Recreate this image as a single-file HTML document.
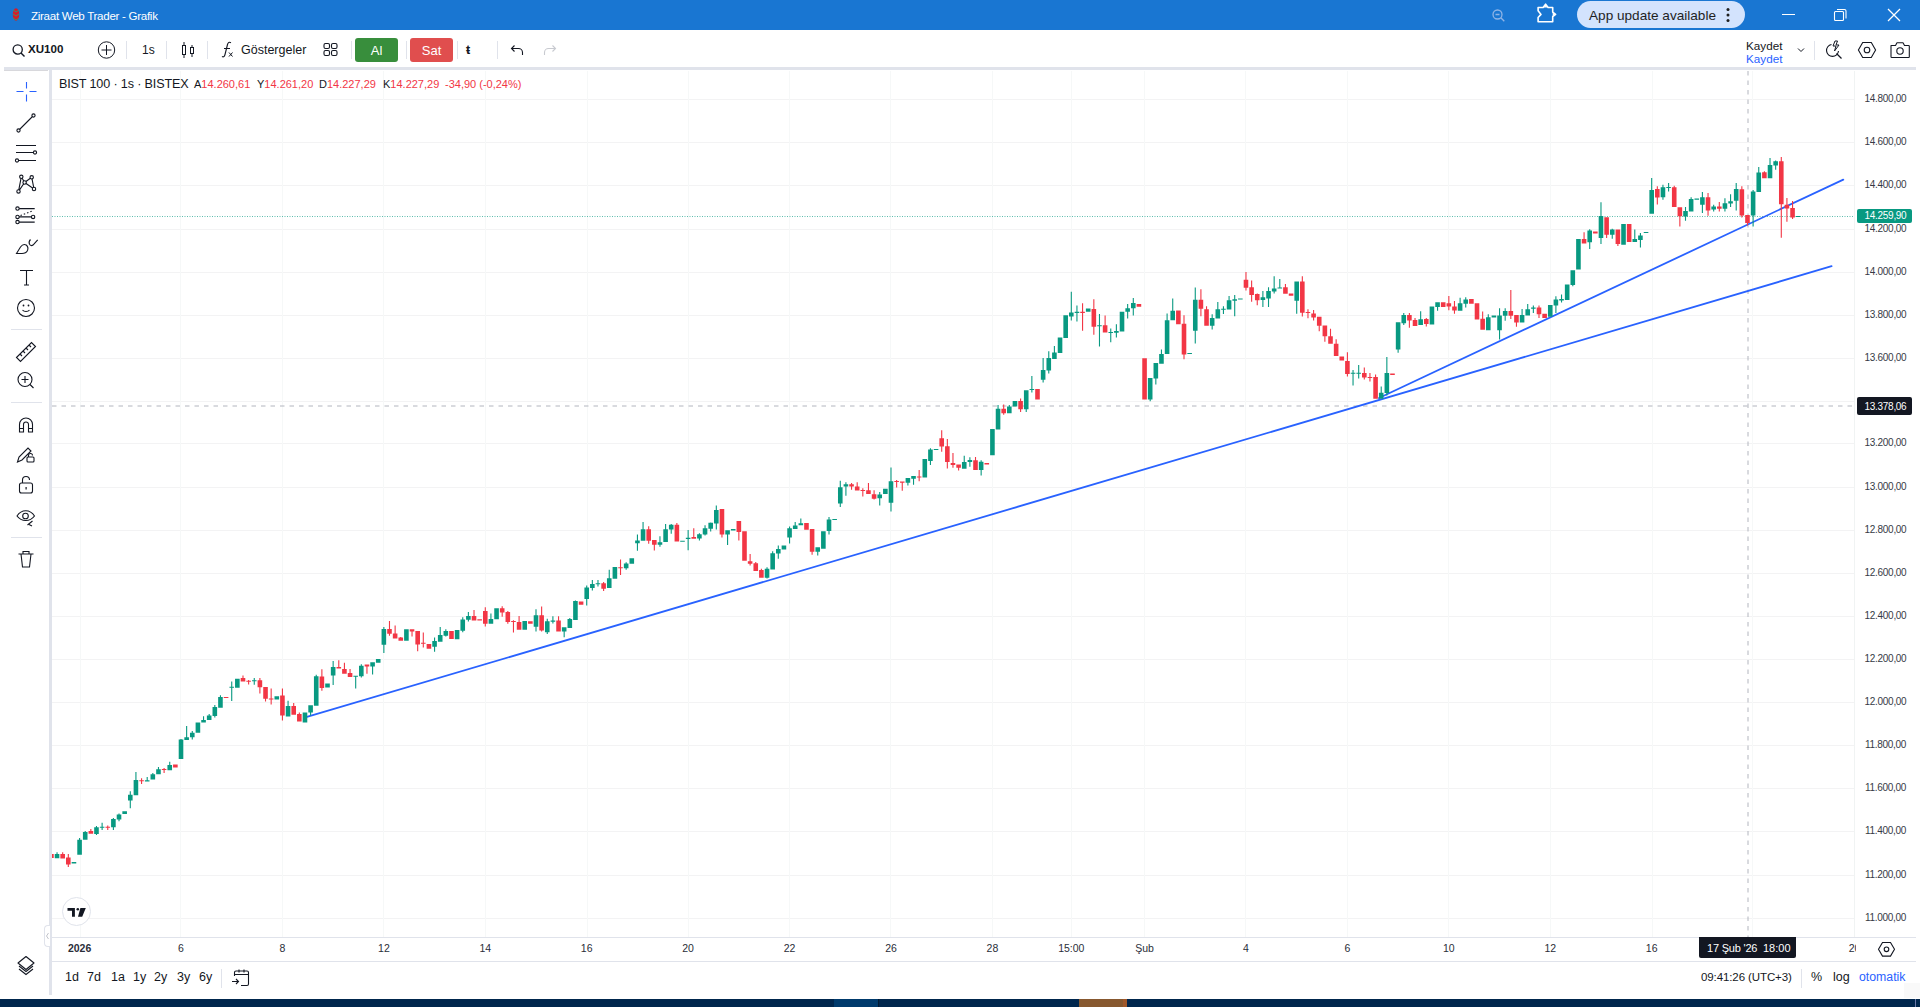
<!DOCTYPE html>
<html><head><meta charset="utf-8">
<style>
*{margin:0;padding:0;box-sizing:border-box}
html,body{width:1920px;height:1007px;overflow:hidden;background:#fff;font-family:"Liberation Sans",sans-serif;color:#131722}
.a{position:absolute;white-space:nowrap}
.sep{position:absolute;background:#e0e3eb}
.vs{position:absolute;width:1px;top:41px;height:18px;background:#e0e3eb}
svg.i{position:absolute;overflow:visible}
.pl{position:absolute;left:1858px;width:55px;text-align:center;font-size:10px;letter-spacing:-0.3px;line-height:13px;color:#363a45}
.tl{position:absolute;top:941px;width:60px;text-align:center;font-size:10.5px;line-height:14px;color:#2a2e39}
.tl.b{font-weight:bold}
.bt{position:absolute;top:970px;font-size:12.5px;line-height:15px;color:#131722}
</style></head><body>
<!-- ===== title bar ===== -->
<div class="a" style="left:0;top:0;width:1920px;height:30px;background:#1976d2"></div>
<svg class="i" style="left:0;top:0" width="30" height="30">
 <ellipse cx="16" cy="14.5" rx="3.2" ry="6.2" fill="#d81b28"/>
 <path d="M13 10l3 2 3-2M13 14l3 2 3-2M13 18l3 2 3-2" stroke="#2e9a6a" stroke-width="0.9" fill="none"/>
</svg>
<div class="a" style="left:31px;top:8.5px;font-size:11.6px;letter-spacing:-0.3px;color:#fff">Ziraat Web Trader - Grafik</div>
<svg class="i" style="left:1488px;top:5px" width="22" height="20">
 <circle cx="9.5" cy="9.5" r="4.5" stroke="#8fb4e6" stroke-width="1.3" fill="none"/>
 <path d="M7.5 9.5h4M12.8 12.8l3.5 3.5" stroke="#8fb4e6" stroke-width="1.3"/>
</svg>
<svg class="i" style="left:1534px;top:2px" width="24" height="24">
 <path d="M4.1 5.5H9.1L11.6 2.2L14.1 5.5H18.7V10.1L21.6 12.4L18.7 14.7V19.7H4.1V15.5L7 12.4L4.1 8.8Z" stroke="#fff" stroke-width="1.6" fill="none" stroke-linejoin="round"/><path d="M9.5 5.5L11.6 2.8L13.7 5.5zM18.7 10.5L21 12.4L18.7 14.3z" fill="#fff"/>
</svg>
<div class="a" style="left:1577px;top:1px;width:168px;height:27px;border-radius:14px;background:#d3e3fd"></div>
<div class="a" style="left:1589px;top:7.5px;font-size:13.6px;color:#1f1f1f">App update available</div>
<svg class="i" style="left:1724px;top:6px" width="8" height="18">
 <circle cx="4" cy="3.5" r="1.5" fill="#1f1f1f"/><circle cx="4" cy="9" r="1.5" fill="#1f1f1f"/><circle cx="4" cy="14.5" r="1.5" fill="#1f1f1f"/>
</svg>
<div class="a" style="left:1782px;top:14px;width:13px;height:1px;background:#fff"></div>
<svg class="i" style="left:1830px;top:5px" width="22" height="20">
 <rect x="4.5" y="6.5" width="9" height="9" stroke="#fff" stroke-width="1.1" fill="none" rx="1"/>
 <path d="M7 4.5h7.5a1.5 1.5 0 0 1 1.5 1.5v7.5" stroke="#fff" stroke-width="1.1" fill="none"/>
</svg>
<svg class="i" style="left:1886px;top:7px" width="16" height="16">
 <path d="M2 2l12 12M14 2L2 14" stroke="#fff" stroke-width="1.3"/>
</svg>

<!-- ===== top toolbar ===== -->
<svg class="i" style="left:10px;top:41px" width="18" height="18">
 <circle cx="7.7" cy="8.5" r="4.6" stroke="#131722" stroke-width="1.3" fill="none"/>
 <path d="M11 12l3.5 3.5" stroke="#131722" stroke-width="1.4"/>
</svg>
<div class="a" style="left:28px;top:42px;font-size:11.6px;font-weight:bold;line-height:14px">XU100</div>
<svg class="i" style="left:96px;top:40px" width="22" height="22">
 <circle cx="10.5" cy="10" r="8.2" stroke="#131722" stroke-width="1" fill="none"/>
 <path d="M10.5 5v10M5.5 10h10" stroke="#131722" stroke-width="1"/>
</svg>
<div class="vs" style="left:126px"></div>
<div class="a" style="left:142px;top:43px;font-size:12px;line-height:14px">1s</div>
<div class="vs" style="left:166px"></div>
<svg class="i" style="left:180px;top:40px" width="16" height="20">
 <path d="M4 2v16M12 5v12" stroke="#131722" stroke-width="1"/>
 <rect x="2.5" y="5.5" width="3" height="9" fill="#fff" stroke="#131722" stroke-width="1"/>
 <rect x="10.5" y="7.5" width="3" height="6" fill="#fff" stroke="#131722" stroke-width="1"/>
</svg>
<div class="vs" style="left:207px"></div>
<svg class="i" style="left:219px;top:40px" width="18" height="20">
 <path d="M3 16.5c1.5 1 2.5 0 3-2l2.5-10c.5-2 1.7-2.7 3.5-1.8M5 8.5h6" stroke="#131722" stroke-width="1.1" fill="none"/>
 <path d="M10 12.5l3.5 4M13.5 12.5l-3.5 4" stroke="#131722" stroke-width="1"/>
</svg>
<div class="a" style="left:241px;top:43px;font-size:12.5px;line-height:14px">Göstergeler</div>
<svg class="i" style="left:322px;top:42px" width="18" height="16">
 <rect x="2" y="1.5" width="5.5" height="5" rx="1.5" stroke="#131722" stroke-width="1.1" fill="none"/>
 <rect x="9.5" y="1.5" width="5.5" height="5" rx="1.5" stroke="#131722" stroke-width="1.1" fill="none"/>
 <rect x="2" y="8.5" width="5.5" height="5" rx="1.5" stroke="#131722" stroke-width="1.1" fill="none"/>
 <rect x="9.5" y="8.5" width="5.5" height="5" rx="1.5" stroke="#131722" stroke-width="1.1" fill="none"/>
</svg>
<div class="vs" style="left:351px"></div>
<div class="a" style="left:355px;top:38px;width:43px;height:24px;border-radius:3px;background:#388e3c;color:#fff;font-size:13px;text-align:center;line-height:26px">Al</div>
<div class="vs" style="left:406px"></div>
<div class="a" style="left:410px;top:38px;width:43px;height:24px;border-radius:3px;background:#e04e4e;color:#fff;font-size:13px;text-align:center;line-height:26px">Sat</div>
<div class="vs" style="left:457px"></div>
<div class="a" style="left:466px;top:43px;font-size:12.5px;font-weight:bold;line-height:14px">ŧ</div>
<div class="vs" style="left:497px"></div>
<svg class="i" style="left:508px;top:41px" width="18" height="18">
 <path d="M3.5 7.5h7a4 4 0 0 1 4 4v2.5M6.5 4.5l-3 3 3 3" stroke="#131722" stroke-width="1.1" fill="none"/>
</svg>
<svg class="i" style="left:541px;top:41px" width="18" height="18">
 <path d="M14.5 7.5h-7a4 4 0 0 0-4 4v2.5M11.5 4.5l3 3-3 3" stroke="#c8cad0" stroke-width="1.1" fill="none"/>
</svg>
<div class="a" style="left:1746px;top:39px;font-size:11.7px;line-height:13px">Kaydet</div>
<div class="a" style="left:1746px;top:52px;font-size:11.7px;line-height:13px;color:#2962ff">Kaydet</div>
<svg class="i" style="left:1796px;top:46px" width="10" height="8">
 <path d="M2 2.5l3 3 3-3" stroke="#131722" stroke-width="1" fill="none"/>
</svg>
<div class="a" style="left:1814px;top:41px;width:1px;height:19px;background:#e0e3eb"></div>
<svg class="i" style="left:1824px;top:39px" width="20" height="21">
 <path d="M7.5 5.5a6 6 0 1 0 7 6.5" stroke="#131722" stroke-width="1.1" fill="none"/>
 <path d="M11 2l-2 5h3l-1.5 5 4.5-6h-3l1.5-4z" stroke="#131722" stroke-width="1" fill="none" stroke-linejoin="round"/>
 <path d="M12.5 14.5l5 5" stroke="#131722" stroke-width="1.2"/>
</svg>
<svg class="i" style="left:1857px;top:41px" width="20" height="18">
 <path d="M5.2 1.5h8.6l4.3 7.5-4.3 7.5H5.2L.9 9z" stroke="#131722" stroke-width="1.1" fill="none" transform="translate(0.5 0)"/>
 <circle cx="10" cy="9" r="2.8" stroke="#131722" stroke-width="1.1" fill="none"/>
</svg>
<svg class="i" style="left:1889px;top:41px" width="22" height="18">
 <path d="M2 4.5h4.5l1.5-2.8h6l1.5 2.8H19.5a.8.8 0 0 1 .8.8v10.4a.8.8 0 0 1-.8.8H2.8a.8.8 0 0 1-.8-.8z" stroke="#131722" stroke-width="1.1" fill="none" stroke-linejoin="round"/>
 <circle cx="11" cy="10" r="3.2" stroke="#131722" stroke-width="1.1" fill="none"/>
</svg>
<div class="sep" style="left:4px;top:67px;width:1912px;height:3px"></div>
<div class="a" style="left:4px;top:70px;width:44px;height:1px;background:#d8d8dc"></div>
<div class="sep" style="left:49px;top:70px;width:3px;height:925px"></div>

<!-- ===== left toolbar ===== -->
<svg class="i" style="left:0;top:70px" width="49" height="500">
 <g stroke="#2962ff" stroke-width="1.1">
  <path d="M26.5 12v6.5M26.5 24.5v7M16.5 21.5h7M29.5 21.5h7"/>
 </g>
 <g stroke="#131722" stroke-width="1.1" fill="none">
  <!-- line tool -->
  <path d="M19.5 59.5l13-13"/><circle cx="18.5" cy="60.5" r="1.6" fill="#fff"/><circle cx="33.5" cy="45.5" r="1.6" fill="#fff"/>
  <!-- parallel lines -->
  <path d="M16 75.5h20M16 82.5h17M18.5 90.5h17.5"/><circle cx="35" cy="82.5" r="1.6" fill="#fff"/><circle cx="17" cy="90.5" r="1.6" fill="#fff"/>
  <!-- pattern -->
  <path d="M21.3 106.8L18.5 121.4L24.6 112.5L21.3 106.8M24.6 112.5L31.7 107.3L34 119L24.6 112.5"/>
  <circle cx="21.3" cy="106.8" r="1.7" fill="#fff"/><circle cx="31.7" cy="107.3" r="1.7" fill="#fff"/><circle cx="24.6" cy="112.5" r="1.7" fill="#fff"/><circle cx="34" cy="119" r="1.7" fill="#fff"/><circle cx="18.5" cy="121.4" r="1.7" fill="#fff"/>
  <!-- fib -->
  <path d="M18.5 138.6h16.2M18.5 146.9h16.2M18.5 152.1h16.2"/><path d="M20.5 145.5l13-5" stroke-dasharray="1.5 2"/>
  <circle cx="17.5" cy="138.6" r="1.7" fill="#fff"/><circle cx="17.5" cy="146.9" r="1.7" fill="#fff"/><circle cx="33.1" cy="146.9" r="1.7" fill="#fff"/><circle cx="17.5" cy="152.1" r="1.7" fill="#fff"/>
  <!-- brush -->
  <path d="M16.5 183.5L20.5 177Q23 173.5 26.2 175Q28.8 177.2 27.5 180.5Q26 183.5 22 183.5Z"/><path d="M30.5 169.5Q28.3 171.8 29.5 174.3Q31 176.5 33 175L37.7 169.8"/>
  <!-- text -->
  <path d="M20 200.5h13M26.5 200.5v14.5M24 215h5"/>
  <!-- emoji -->
  <circle cx="26" cy="238" r="8.5"/><path d="M22.5 240c1.5 2 5.5 2 7 0"/>
 </g>
 <g fill="#131722"><circle cx="23.5" cy="235.5" r=".9"/><circle cx="28.5" cy="235.5" r=".9"/></g>
 <rect x="11" y="259" width="31" height="1" fill="#e0e3eb"/>
 <g stroke="#131722" stroke-width="1.1" fill="none">
  <!-- ruler -->
  <path d="M16.5 287.5l15-15 4 4-15 15zM20 284l2 2M23 281l2 2M26 278l2 2M29 275l2 2"/>
  <!-- zoom -->
  <circle cx="25" cy="309.5" r="7"/><path d="M25 306v7M21.5 309.5h7M30 314.5l3.5 3.5"/>
 </g>
 <rect x="11" y="332" width="31" height="1" fill="#e0e3eb"/>
 <g stroke="#131722" stroke-width="1.1" fill="none">
  <!-- magnet -->
  <path d="M19.5 362v-7.5a6.5 6.5 0 0 1 13 0v7.5h-4v-7.5a2.5 2.5 0 0 0-5 0v7.5zM19.5 358.5h4M28.5 358.5h4"/>
  <!-- pencil lock -->
  <path d="M17.5 392l1.5-5 9-9 3 3-9 9z"/><rect x="27" y="387" width="7" height="5" rx="1"/><path d="M28.5 387v-1.5a2 2 0 0 1 4 0"/>
  <!-- lock -->
  <rect x="19.5" y="413" width="13" height="10" rx="2"/><path d="M22.5 413v-3a3.5 3.5 0 0 1 7 0"/>
  <!-- eye -->
  <path d="M17 446c4.5-7 13-7 17.5 0-4.5 6-13 6-17.5 0z"/><circle cx="25.5" cy="446" r="2.8"/><path d="M27.5 455l5-4M29 454.5l3 1.5"/>
 </g>
 <g fill="#131722"><rect x="25.5" y="417" width="1.2" height="2.5"/></g>
 <rect x="11" y="467" width="31" height="1" fill="#e0e3eb"/>
 <g stroke="#131722" stroke-width="1.1" fill="none">
  <path d="M18.5 484h15M21 484l1.5 13h7l1.5-13M23 484v-2.5h6v2.5"/>
 </g>
</svg>
<svg class="i" style="left:15px;top:955px" width="22" height="22">
 <path d="M11 1.5l8 6.5-8 6.5-8-6.5z" stroke="#131722" stroke-width="1.1" fill="none" stroke-linejoin="round"/>
 <path d="M4 11l7 5.5 7-5.5M4 14l7 5.5 7-5.5" stroke="#131722" stroke-width="1.1" fill="none"/>
</svg>

<!-- ===== chart ===== -->
<svg width="1920" height="1007" style="position:absolute;left:0;top:0"><defs><clipPath id="cp"><rect x="52" y="71" width="1803" height="866"/></clipPath></defs><g clip-path="url(#cp)"><rect x="52" y="99" width="1803" height="1" fill="#f3f3f4"/><rect x="52" y="142" width="1803" height="1" fill="#f3f3f4"/><rect x="52" y="185" width="1803" height="1" fill="#f3f3f4"/><rect x="52" y="229" width="1803" height="1" fill="#f3f3f4"/><rect x="52" y="272" width="1803" height="1" fill="#f3f3f4"/><rect x="52" y="315" width="1803" height="1" fill="#f3f3f4"/><rect x="52" y="358" width="1803" height="1" fill="#f3f3f4"/><rect x="52" y="401" width="1803" height="1" fill="#f3f3f4"/><rect x="52" y="443" width="1803" height="1" fill="#f3f3f4"/><rect x="52" y="487" width="1803" height="1" fill="#f3f3f4"/><rect x="52" y="530" width="1803" height="1" fill="#f3f3f4"/><rect x="52" y="573" width="1803" height="1" fill="#f3f3f4"/><rect x="52" y="616" width="1803" height="1" fill="#f3f3f4"/><rect x="52" y="659" width="1803" height="1" fill="#f3f3f4"/><rect x="52" y="702" width="1803" height="1" fill="#f3f3f4"/><rect x="52" y="745" width="1803" height="1" fill="#f3f3f4"/><rect x="52" y="788" width="1803" height="1" fill="#f3f3f4"/><rect x="52" y="831" width="1803" height="1" fill="#f3f3f4"/><rect x="52" y="875" width="1803" height="1" fill="#f3f3f4"/><rect x="52" y="918" width="1803" height="1" fill="#f3f3f4"/><rect x="80" y="71" width="1" height="866" fill="#f6f8f8"/><rect x="180" y="71" width="1" height="866" fill="#f6f8f8"/><rect x="282" y="71" width="1" height="866" fill="#f6f8f8"/><rect x="383" y="71" width="1" height="866" fill="#f6f8f8"/><rect x="485" y="71" width="1" height="866" fill="#f6f8f8"/><rect x="587" y="71" width="1" height="866" fill="#f6f8f8"/><rect x="688" y="71" width="1" height="866" fill="#f6f8f8"/><rect x="789" y="71" width="1" height="866" fill="#f6f8f8"/><rect x="890" y="71" width="1" height="866" fill="#f6f8f8"/><rect x="992" y="71" width="1" height="866" fill="#f6f8f8"/><rect x="1071" y="71" width="1" height="866" fill="#f6f8f8"/><rect x="1144" y="71" width="1" height="866" fill="#f6f8f8"/><rect x="1245" y="71" width="1" height="866" fill="#f6f8f8"/><rect x="1347" y="71" width="1" height="866" fill="#f6f8f8"/><rect x="1448" y="71" width="1" height="866" fill="#f6f8f8"/><rect x="1550" y="71" width="1" height="866" fill="#f6f8f8"/><rect x="1652" y="71" width="1" height="866" fill="#f6f8f8"/><rect x="1752" y="71" width="1" height="866" fill="#f6f8f8"/><line x1="52" y1="406" x2="1855" y2="406" stroke="#b2b5be" stroke-width="1" stroke-dasharray="4.5 5" /><line x1="1748" y1="71" x2="1748" y2="937" stroke="#b2b5be" stroke-width="1" stroke-dasharray="4.5 5" /><line x1="52" y1="216.5" x2="1855" y2="216.5" stroke="#089981" stroke-opacity="0.65" stroke-width="1" stroke-dasharray="1 1.5" /><line x1="306.9" y1="716.9" x2="1831.6" y2="266.2" stroke="#2962ff" stroke-width="1.8" stroke-linecap="round"/><line x1="1379" y1="398" x2="1843.3" y2="179.6" stroke="#2962ff" stroke-width="1.8" stroke-linecap="round"/><path fill="#089981" d="M54.74 854.10h4.6v4.10h-4.6zM56.49 852.30h1.1v1.80h-1.1zM71.65 862.10h4.6v1.50h-4.6zM77.28 839.80h4.6v14.90h-4.6zM79.03 838.00h1.1v1.80h-1.1zM82.91 832.00h4.6v7.80h-4.6zM84.66 831.10h1.1v0.90h-1.1zM94.18 827.30h4.6v6.80h-4.6zM95.93 826.00h1.1v1.30h-1.1zM95.93 834.10h1.1v0.90h-1.1zM99.82 826.85h4.6v1.00h-4.6zM101.57 822.80h1.1v4.05h-1.1zM101.57 827.85h1.1v2.15h-1.1zM111.09 818.90h4.6v8.40h-4.6zM112.84 818.00h1.1v0.90h-1.1zM112.84 827.30h1.1v2.70h-1.1zM116.72 814.50h4.6v5.00h-4.6zM118.47 813.60h1.1v0.90h-1.1zM118.47 819.50h1.1v1.80h-1.1zM122.36 811.30h4.6v2.70h-4.6zM127.99 794.80h4.6v5.80h-4.6zM129.74 791.20h1.1v3.60h-1.1zM129.74 800.60h1.1v7.60h-1.1zM133.63 780.00h4.6v15.20h-4.6zM135.38 772.00h1.1v8.00h-1.1zM144.90 780.30h4.6v1.10h-4.6zM146.65 777.00h1.1v3.30h-1.1zM150.53 774.20h4.6v5.40h-4.6zM152.28 772.90h1.1v1.30h-1.1zM156.17 769.30h4.6v4.90h-4.6zM157.92 767.00h1.1v2.30h-1.1zM167.44 764.90h4.6v5.30h-4.6zM169.19 761.70h1.1v3.20h-1.1zM178.71 739.40h4.6v19.60h-4.6zM180.46 739.00h1.1v0.40h-1.1zM184.34 737.30h4.6v2.70h-4.6zM186.09 726.10h1.1v11.20h-1.1zM189.98 732.80h4.6v4.50h-4.6zM191.73 731.00h1.1v1.80h-1.1zM191.73 737.30h1.1v2.20h-1.1zM195.61 722.60h4.6v10.20h-4.6zM201.25 719.90h4.6v2.70h-4.6zM203.00 716.30h1.1v3.60h-1.1zM206.88 715.40h4.6v4.50h-4.6zM208.63 714.00h1.1v1.40h-1.1zM212.52 706.90h4.6v9.00h-4.6zM214.27 705.10h1.1v1.80h-1.1zM214.27 715.90h1.1v1.70h-1.1zM218.15 697.10h4.6v10.70h-4.6zM219.90 695.30h1.1v1.80h-1.1zM229.42 686.75h4.6v1.00h-4.6zM231.17 681.40h1.1v5.35h-1.1zM231.17 687.75h1.1v13.35h-1.1zM235.05 678.80h4.6v8.90h-4.6zM251.96 680.30h4.6v1.00h-4.6zM253.71 678.10h1.1v2.20h-1.1zM253.71 681.30h1.1v3.40h-1.1zM274.50 696.30h4.6v3.20h-4.6zM285.77 706.10h4.6v10.40h-4.6zM287.52 700.70h1.1v5.40h-1.1zM302.67 712.40h4.6v10.10h-4.6zM308.31 705.20h4.6v7.20h-4.6zM310.06 712.40h1.1v3.20h-1.1zM313.94 676.30h4.6v29.50h-4.6zM315.69 674.80h1.1v1.50h-1.1zM325.21 683.40h4.6v4.10h-4.6zM330.85 667.00h4.6v8.40h-4.6zM332.60 661.10h1.1v5.90h-1.1zM332.60 675.40h1.1v9.50h-1.1zM353.39 675.80h4.6v1.00h-4.6zM355.14 676.80h1.1v11.70h-1.1zM359.02 665.80h4.6v10.40h-4.6zM360.77 664.20h1.1v1.60h-1.1zM360.77 676.20h1.1v1.20h-1.1zM370.29 662.30h4.6v4.30h-4.6zM372.04 666.60h1.1v8.00h-1.1zM375.92 659.10h4.6v3.60h-4.6zM381.56 628.90h4.6v15.90h-4.6zM383.31 626.90h1.1v2.00h-1.1zM383.31 644.80h1.1v8.30h-1.1zM404.10 629.20h4.6v11.60h-4.6zM432.27 641.10h4.6v5.70h-4.6zM434.02 637.50h1.1v3.60h-1.1zM434.02 646.80h1.1v5.00h-1.1zM437.91 635.10h4.6v6.60h-4.6zM439.66 627.10h1.1v8.00h-1.1zM443.54 631.00h4.6v4.70h-4.6zM445.29 629.20h1.1v1.80h-1.1zM445.29 635.70h1.1v0.90h-1.1zM454.81 630.10h4.6v9.20h-4.6zM460.45 619.50h4.6v11.30h-4.6zM462.20 617.30h1.1v2.20h-1.1zM462.20 630.80h1.1v1.50h-1.1zM466.08 616.10h4.6v3.70h-4.6zM467.83 612.00h1.1v4.10h-1.1zM467.83 619.80h1.1v1.80h-1.1zM488.62 619.10h4.6v4.70h-4.6zM490.37 613.40h1.1v5.70h-1.1zM494.26 608.20h4.6v11.10h-4.6zM522.43 621.10h4.6v8.70h-4.6zM533.70 615.20h4.6v11.60h-4.6zM535.45 609.30h1.1v5.90h-1.1zM535.45 626.80h1.1v4.70h-1.1zM544.97 621.20h4.6v11.00h-4.6zM546.72 618.70h1.1v2.50h-1.1zM546.72 632.20h1.1v1.70h-1.1zM550.60 620.40h4.6v1.30h-4.6zM552.35 616.20h1.1v4.20h-1.1zM552.35 621.70h1.1v1.70h-1.1zM561.87 627.20h4.6v4.20h-4.6zM563.62 631.40h1.1v5.90h-1.1zM567.51 619.10h4.6v8.90h-4.6zM569.26 617.90h1.1v1.20h-1.1zM573.14 601.00h4.6v19.00h-4.6zM574.89 600.60h1.1v0.40h-1.1zM584.41 587.50h4.6v11.40h-4.6zM586.16 585.40h1.1v2.10h-1.1zM586.16 598.90h1.1v6.70h-1.1zM590.05 584.10h4.6v3.80h-4.6zM591.80 579.90h1.1v4.20h-1.1zM591.80 587.90h1.1v2.50h-1.1zM595.68 583.20h4.6v1.00h-4.6zM597.43 579.90h1.1v3.30h-1.1zM597.43 584.20h1.1v2.40h-1.1zM606.95 578.20h4.6v9.70h-4.6zM608.70 569.80h1.1v8.40h-1.1zM612.59 567.00h4.6v11.70h-4.6zM623.86 563.50h4.6v4.80h-4.6zM625.61 562.30h1.1v1.20h-1.1zM625.61 568.30h1.1v1.50h-1.1zM629.49 558.20h4.6v5.60h-4.6zM635.13 540.40h4.6v2.90h-4.6zM636.88 534.40h1.1v6.00h-1.1zM636.88 543.30h1.1v7.50h-1.1zM640.76 529.20h4.6v11.50h-4.6zM642.51 522.10h1.1v7.10h-1.1zM657.66 542.20h4.6v2.60h-4.6zM659.41 536.30h1.1v5.90h-1.1zM659.41 544.80h1.1v1.90h-1.1zM663.30 529.20h4.6v12.70h-4.6zM665.05 524.00h1.1v5.20h-1.1zM668.93 524.70h4.6v4.90h-4.6zM670.68 524.00h1.1v0.70h-1.1zM670.68 529.60h1.1v4.10h-1.1zM680.20 540.85h4.6v1.00h-4.6zM685.84 537.80h4.6v1.20h-4.6zM687.59 530.00h1.1v7.80h-1.1zM687.59 539.00h1.1v11.20h-1.1zM697.11 534.20h4.6v4.20h-4.6zM698.86 533.30h1.1v0.90h-1.1zM698.86 538.40h1.1v2.10h-1.1zM702.74 528.30h4.6v6.30h-4.6zM704.49 525.30h1.1v3.00h-1.1zM704.49 534.60h1.1v0.80h-1.1zM708.38 522.80h4.6v5.90h-4.6zM710.13 522.40h1.1v0.40h-1.1zM710.13 528.70h1.1v2.90h-1.1zM714.01 510.10h4.6v13.50h-4.6zM715.76 505.50h1.1v4.60h-1.1zM715.76 523.60h1.1v5.90h-1.1zM725.28 530.20h4.6v4.40h-4.6zM727.03 534.60h1.1v10.50h-1.1zM730.92 529.10h4.6v1.40h-4.6zM764.73 568.80h4.6v9.00h-4.6zM766.48 567.30h1.1v1.50h-1.1zM766.48 577.80h1.1v0.70h-1.1zM770.36 553.20h4.6v16.40h-4.6zM772.11 551.30h1.1v1.90h-1.1zM776.00 549.10h4.6v4.50h-4.6zM777.75 545.40h1.1v3.70h-1.1zM777.75 553.60h1.1v5.20h-1.1zM781.63 545.40h4.6v4.10h-4.6zM787.26 528.20h4.6v9.40h-4.6zM789.01 526.40h1.1v1.80h-1.1zM789.01 537.60h1.1v5.90h-1.1zM792.90 525.60h4.6v3.40h-4.6zM794.65 521.90h1.1v3.70h-1.1zM798.53 523.30h4.6v2.00h-4.6zM800.28 518.60h1.1v4.70h-1.1zM815.44 547.20h4.6v4.50h-4.6zM817.19 551.70h1.1v3.70h-1.1zM821.07 531.20h4.6v17.50h-4.6zM826.71 519.60h4.6v11.50h-4.6zM828.46 517.00h1.1v2.60h-1.1zM828.46 531.10h1.1v3.50h-1.1zM832.34 519.05h4.6v1.00h-4.6zM837.98 487.20h4.6v16.40h-4.6zM839.73 480.80h1.1v6.40h-1.1zM839.73 503.60h1.1v3.30h-1.1zM843.61 484.20h4.6v2.20h-4.6zM845.36 482.30h1.1v1.90h-1.1zM845.36 486.40h1.1v9.30h-1.1zM877.42 494.60h4.6v3.70h-4.6zM879.17 492.00h1.1v2.60h-1.1zM879.17 498.30h1.1v7.10h-1.1zM883.06 488.70h4.6v5.20h-4.6zM888.69 481.20h4.6v21.60h-4.6zM890.44 467.40h1.1v13.80h-1.1zM890.44 502.80h1.1v8.60h-1.1zM905.60 478.00h4.6v4.70h-4.6zM907.35 482.70h1.1v2.80h-1.1zM911.23 476.00h4.6v2.80h-4.6zM912.98 478.80h1.1v5.90h-1.1zM922.50 458.90h4.6v18.70h-4.6zM928.13 449.40h4.6v11.50h-4.6zM929.88 448.20h1.1v1.20h-1.1zM929.88 460.90h1.1v4.00h-1.1zM933.77 448.90h4.6v1.00h-4.6zM961.94 461.90h4.6v6.80h-4.6zM963.69 455.70h1.1v6.20h-1.1zM967.58 460.10h4.6v1.80h-4.6zM969.33 457.30h1.1v2.80h-1.1zM969.33 461.90h1.1v4.90h-1.1zM978.85 461.80h4.6v8.20h-4.6zM980.60 460.20h1.1v1.60h-1.1zM980.60 470.00h1.1v5.50h-1.1zM990.12 429.00h4.6v26.20h-4.6zM995.75 408.80h4.6v20.80h-4.6zM997.50 405.00h1.1v3.80h-1.1zM1007.02 406.60h4.6v6.60h-4.6zM1008.77 405.00h1.1v1.60h-1.1zM1012.66 401.10h4.6v5.50h-4.6zM1023.93 390.20h4.6v19.10h-4.6zM1025.68 409.30h1.1v2.80h-1.1zM1029.56 389.00h4.6v1.00h-4.6zM1031.31 376.10h1.1v12.90h-1.1zM1031.31 390.00h1.1v2.40h-1.1zM1040.83 370.00h4.6v9.70h-4.6zM1042.58 358.00h1.1v12.00h-1.1zM1042.58 379.70h1.1v2.90h-1.1zM1046.47 358.10h4.6v12.50h-4.6zM1048.22 351.20h1.1v6.90h-1.1zM1048.22 370.60h1.1v2.90h-1.1zM1052.10 352.40h4.6v6.60h-4.6zM1053.85 346.10h1.1v6.30h-1.1zM1057.74 337.50h4.6v15.40h-4.6zM1063.37 315.30h4.6v22.80h-4.6zM1069.00 312.40h4.6v4.00h-4.6zM1070.75 291.80h1.1v20.60h-1.1zM1070.75 316.40h1.1v4.00h-1.1zM1074.64 311.80h4.6v1.20h-4.6zM1076.39 305.50h1.1v6.30h-1.1zM1076.39 313.00h1.1v8.50h-1.1zM1085.91 308.40h4.6v3.40h-4.6zM1097.18 325.20h4.6v1.10h-4.6zM1098.93 314.10h1.1v11.10h-1.1zM1098.93 326.30h1.1v20.30h-1.1zM1108.45 332.00h4.6v1.00h-4.6zM1110.20 328.50h1.1v3.50h-1.1zM1110.20 333.00h1.1v9.20h-1.1zM1114.08 330.90h4.6v1.80h-4.6zM1115.83 324.30h1.1v6.60h-1.1zM1115.83 332.70h1.1v4.70h-1.1zM1119.72 311.80h4.6v19.70h-4.6zM1125.35 308.20h4.6v3.60h-4.6zM1127.10 304.10h1.1v4.10h-1.1zM1127.10 311.80h1.1v6.60h-1.1zM1130.99 302.90h4.6v5.30h-4.6zM1132.74 298.10h1.1v4.80h-1.1zM1132.74 308.20h1.1v7.20h-1.1zM1147.89 378.00h4.6v21.40h-4.6zM1149.64 399.40h1.1v1.80h-1.1zM1153.53 363.10h4.6v15.50h-4.6zM1155.28 378.60h1.1v5.90h-1.1zM1159.16 354.10h4.6v9.60h-4.6zM1160.91 349.40h1.1v4.70h-1.1zM1164.80 320.20h4.6v33.90h-4.6zM1166.55 313.60h1.1v6.60h-1.1zM1170.43 310.80h4.6v9.50h-4.6zM1172.18 298.50h1.1v12.30h-1.1zM1187.34 353.00h4.6v1.00h-4.6zM1192.97 299.70h4.6v31.10h-4.6zM1194.72 287.50h1.1v12.20h-1.1zM1194.72 330.80h1.1v12.80h-1.1zM1209.87 318.10h4.6v7.60h-4.6zM1211.62 314.30h1.1v3.80h-1.1zM1211.62 325.70h1.1v3.70h-1.1zM1215.51 309.20h4.6v9.40h-4.6zM1217.26 302.10h1.1v7.10h-1.1zM1221.14 308.70h4.6v1.10h-4.6zM1222.89 306.30h1.1v2.40h-1.1zM1222.89 309.80h1.1v4.10h-1.1zM1226.78 300.20h4.6v9.40h-4.6zM1228.53 295.90h1.1v4.30h-1.1zM1232.41 299.20h4.6v1.50h-4.6zM1234.16 295.00h1.1v4.20h-1.1zM1234.16 300.70h1.1v15.50h-1.1zM1238.05 298.50h4.6v1.10h-4.6zM1260.59 297.30h4.6v2.60h-4.6zM1262.34 291.10h1.1v6.20h-1.1zM1262.34 299.90h1.1v7.10h-1.1zM1266.22 291.10h4.6v7.50h-4.6zM1267.97 287.30h1.1v3.80h-1.1zM1267.97 298.60h1.1v8.40h-1.1zM1271.86 288.60h4.6v2.90h-4.6zM1273.61 276.30h1.1v12.30h-1.1zM1273.61 291.50h1.1v1.90h-1.1zM1277.49 287.60h4.6v1.00h-4.6zM1279.24 278.90h1.1v8.70h-1.1zM1294.40 281.50h4.6v19.30h-4.6zM1296.15 300.80h1.1v12.90h-1.1zM1350.74 372.80h4.6v1.00h-4.6zM1352.49 370.00h1.1v2.80h-1.1zM1352.49 373.80h1.1v11.60h-1.1zM1356.38 372.80h4.6v1.00h-4.6zM1358.13 365.10h1.1v7.70h-1.1zM1358.13 373.80h1.1v4.70h-1.1zM1378.92 392.80h4.6v6.00h-4.6zM1380.67 386.50h1.1v6.30h-1.1zM1384.55 373.00h4.6v20.10h-4.6zM1386.30 357.10h1.1v15.90h-1.1zM1386.30 393.10h1.1v2.30h-1.1zM1395.82 322.20h4.6v27.40h-4.6zM1397.57 349.60h1.1v3.20h-1.1zM1401.46 315.10h4.6v8.20h-4.6zM1403.21 313.00h1.1v2.10h-1.1zM1403.21 323.30h1.1v1.70h-1.1zM1418.36 319.30h4.6v5.70h-4.6zM1420.11 311.30h1.1v8.00h-1.1zM1429.63 306.40h4.6v18.00h-4.6zM1435.27 302.20h4.6v4.70h-4.6zM1437.02 306.90h1.1v3.90h-1.1zM1457.81 303.20h4.6v7.50h-4.6zM1459.56 297.70h1.1v5.50h-1.1zM1463.44 299.60h4.6v4.20h-4.6zM1465.19 297.20h1.1v2.40h-1.1zM1465.19 303.80h1.1v3.80h-1.1zM1485.98 317.20h4.6v13.10h-4.6zM1487.73 314.20h1.1v3.00h-1.1zM1491.61 315.40h4.6v2.10h-4.6zM1497.25 315.40h4.6v14.90h-4.6zM1499.00 308.20h1.1v7.20h-1.1zM1499.00 330.30h1.1v9.20h-1.1zM1502.88 310.90h4.6v4.80h-4.6zM1504.63 308.20h1.1v2.70h-1.1zM1504.63 315.70h1.1v5.00h-1.1zM1519.79 315.10h4.6v7.40h-4.6zM1521.54 309.10h1.1v6.00h-1.1zM1525.42 309.20h4.6v6.40h-4.6zM1527.17 304.10h1.1v5.10h-1.1zM1531.06 307.50h4.6v1.20h-4.6zM1532.81 305.60h1.1v1.90h-1.1zM1532.81 308.70h1.1v4.30h-1.1zM1547.96 305.00h4.6v11.80h-4.6zM1553.60 299.40h4.6v6.20h-4.6zM1555.35 296.30h1.1v3.10h-1.1zM1555.35 305.60h1.1v7.40h-1.1zM1559.23 299.10h4.6v1.30h-4.6zM1560.98 294.40h1.1v4.70h-1.1zM1560.98 300.40h1.1v2.10h-1.1zM1564.87 284.50h4.6v15.50h-4.6zM1570.50 270.20h4.6v14.90h-4.6zM1572.25 285.10h1.1v1.20h-1.1zM1576.14 239.10h4.6v30.50h-4.6zM1587.41 230.40h4.6v11.80h-4.6zM1589.16 229.20h1.1v1.20h-1.1zM1589.16 242.20h1.1v6.90h-1.1zM1598.68 216.10h4.6v21.80h-4.6zM1600.43 202.20h1.1v13.90h-1.1zM1600.43 237.90h1.1v6.00h-1.1zM1609.95 229.60h4.6v5.10h-4.6zM1611.70 228.80h1.1v0.80h-1.1zM1611.70 234.70h1.1v4.00h-1.1zM1621.22 224.00h4.6v20.70h-4.6zM1632.48 239.10h4.6v2.80h-4.6zM1634.23 229.60h1.1v9.50h-1.1zM1638.12 235.50h4.6v4.40h-4.6zM1639.87 233.10h1.1v2.40h-1.1zM1639.87 239.90h1.1v7.50h-1.1zM1643.75 232.00h4.6v1.10h-4.6zM1649.39 189.90h4.6v23.80h-4.6zM1651.14 177.90h1.1v12.00h-1.1zM1660.66 187.20h4.6v10.10h-4.6zM1662.41 184.80h1.1v2.40h-1.1zM1662.41 197.30h1.1v2.50h-1.1zM1666.29 186.95h4.6v1.00h-4.6zM1668.04 183.10h1.1v3.85h-1.1zM1668.04 187.95h1.1v3.55h-1.1zM1683.20 211.00h4.6v5.60h-4.6zM1684.95 206.90h1.1v4.10h-1.1zM1684.95 216.60h1.1v4.10h-1.1zM1688.83 199.10h4.6v12.30h-4.6zM1690.58 197.20h1.1v1.90h-1.1zM1694.47 198.60h4.6v1.20h-4.6zM1700.10 197.20h4.6v7.50h-4.6zM1701.85 192.00h1.1v5.20h-1.1zM1701.85 204.70h1.1v8.20h-1.1zM1711.37 206.50h4.6v3.00h-4.6zM1713.12 204.70h1.1v1.80h-1.1zM1713.12 209.50h1.1v1.90h-1.1zM1722.64 203.20h4.6v5.60h-4.6zM1724.39 198.30h1.1v4.90h-1.1zM1724.39 208.80h1.1v2.60h-1.1zM1728.28 201.30h4.6v2.30h-4.6zM1730.03 194.30h1.1v7.00h-1.1zM1730.03 203.60h1.1v3.30h-1.1zM1733.91 189.10h4.6v11.70h-4.6zM1735.66 183.10h1.1v6.00h-1.1zM1735.66 200.80h1.1v9.70h-1.1zM1750.82 191.50h4.6v24.10h-4.6zM1752.57 190.10h1.1v1.40h-1.1zM1752.57 215.60h1.1v10.80h-1.1zM1756.45 172.60h4.6v19.40h-4.6zM1758.20 167.00h1.1v5.60h-1.1zM1767.72 165.10h4.6v13.20h-4.6zM1769.47 158.00h1.1v7.10h-1.1zM1773.35 161.30h4.6v4.30h-4.6zM1775.10 160.40h1.1v0.90h-1.1zM1775.10 165.60h1.1v4.20h-1.1zM1795.89 215.90h4.6v1.00h-4.6z"/><path fill="#f23645" d="M49.11 854.00h4.6v4.00h-4.6zM60.38 854.10h4.6v4.40h-4.6zM62.13 852.30h1.1v1.80h-1.1zM66.01 857.60h4.6v6.90h-4.6zM67.76 854.00h1.1v3.60h-1.1zM67.76 864.50h1.1v2.50h-1.1zM88.55 831.10h4.6v2.70h-4.6zM90.30 829.00h1.1v2.10h-1.1zM105.45 826.65h4.6v1.00h-4.6zM107.20 825.50h1.1v1.15h-1.1zM107.20 827.65h1.1v2.35h-1.1zM139.26 780.25h4.6v1.00h-4.6zM141.01 778.30h1.1v1.95h-1.1zM141.01 781.25h1.1v2.75h-1.1zM161.80 768.90h4.6v1.00h-4.6zM163.55 768.00h1.1v0.90h-1.1zM163.55 769.90h1.1v3.00h-1.1zM173.07 764.40h4.6v3.10h-4.6zM223.78 696.90h4.6v1.00h-4.6zM240.69 677.90h4.6v3.50h-4.6zM242.44 675.60h1.1v2.30h-1.1zM246.32 680.85h4.6v1.00h-4.6zM248.07 680.00h1.1v0.85h-1.1zM248.07 681.85h1.1v2.75h-1.1zM257.59 680.20h4.6v7.10h-4.6zM259.34 678.10h1.1v2.10h-1.1zM259.34 687.30h1.1v6.30h-1.1zM263.23 687.00h4.6v11.70h-4.6zM264.98 698.70h1.1v2.90h-1.1zM268.86 698.40h4.6v1.00h-4.6zM270.61 688.50h1.1v9.90h-1.1zM270.61 699.40h1.1v5.20h-1.1zM280.13 695.40h4.6v20.20h-4.6zM281.88 688.50h1.1v6.90h-1.1zM281.88 715.60h1.1v4.80h-1.1zM291.40 706.10h4.6v8.60h-4.6zM293.15 703.10h1.1v3.00h-1.1zM297.04 714.10h4.6v7.50h-4.6zM298.79 712.60h1.1v1.50h-1.1zM319.58 676.50h4.6v11.50h-4.6zM321.33 669.30h1.1v7.20h-1.1zM321.33 688.00h1.1v2.70h-1.1zM336.48 667.00h4.6v1.40h-4.6zM338.23 660.30h1.1v6.70h-1.1zM342.12 669.00h4.6v4.80h-4.6zM343.87 662.70h1.1v6.30h-1.1zM347.75 673.00h4.6v4.00h-4.6zM349.50 669.00h1.1v4.00h-1.1zM364.65 664.60h4.6v2.00h-4.6zM366.40 666.60h1.1v7.20h-1.1zM387.19 628.90h4.6v4.80h-4.6zM388.94 621.00h1.1v7.90h-1.1zM388.94 633.70h1.1v2.00h-1.1zM392.83 633.40h4.6v5.00h-4.6zM394.58 625.60h1.1v7.80h-1.1zM398.46 637.50h4.6v3.30h-4.6zM400.21 636.90h1.1v0.60h-1.1zM409.73 629.20h4.6v2.40h-4.6zM411.48 631.60h1.1v5.00h-1.1zM415.37 631.00h4.6v13.40h-4.6zM417.12 644.40h1.1v6.80h-1.1zM421.00 642.85h4.6v1.00h-4.6zM422.75 632.50h1.1v10.35h-1.1zM422.75 643.85h1.1v3.75h-1.1zM426.64 644.10h4.6v4.70h-4.6zM449.18 631.00h4.6v8.00h-4.6zM471.72 616.10h4.6v4.50h-4.6zM473.47 610.10h1.1v6.00h-1.1zM477.35 619.30h4.6v1.30h-4.6zM482.99 611.10h4.6v12.70h-4.6zM484.74 607.20h1.1v3.90h-1.1zM484.74 623.80h1.1v2.70h-1.1zM499.89 608.20h4.6v4.20h-4.6zM501.64 606.20h1.1v2.00h-1.1zM501.64 612.40h1.1v4.40h-1.1zM505.52 611.90h4.6v10.20h-4.6zM507.27 611.10h1.1v0.80h-1.1zM507.27 622.10h1.1v1.70h-1.1zM511.16 620.95h4.6v1.00h-4.6zM512.91 620.30h1.1v0.65h-1.1zM512.91 621.95h1.1v10.55h-1.1zM516.79 622.10h4.6v7.70h-4.6zM518.54 616.10h1.1v6.00h-1.1zM528.06 621.30h4.6v2.50h-4.6zM539.33 615.30h4.6v15.20h-4.6zM541.08 606.50h1.1v8.80h-1.1zM541.08 630.50h1.1v0.90h-1.1zM556.24 620.40h4.6v11.00h-4.6zM557.99 616.20h1.1v4.20h-1.1zM578.78 601.40h4.6v3.40h-4.6zM601.32 583.30h4.6v5.50h-4.6zM603.07 582.00h1.1v1.30h-1.1zM603.07 588.80h1.1v2.10h-1.1zM618.22 567.20h4.6v1.10h-4.6zM619.97 559.40h1.1v7.80h-1.1zM619.97 568.30h1.1v6.70h-1.1zM646.39 529.20h4.6v11.50h-4.6zM648.14 526.20h1.1v3.00h-1.1zM648.14 540.70h1.1v3.00h-1.1zM652.03 540.00h4.6v4.80h-4.6zM653.78 544.80h1.1v5.60h-1.1zM674.57 524.70h4.6v16.80h-4.6zM676.32 522.90h1.1v1.80h-1.1zM691.47 537.10h4.6v1.70h-4.6zM693.22 528.30h1.1v8.80h-1.1zM719.65 508.90h4.6v25.70h-4.6zM721.40 534.60h1.1v3.00h-1.1zM736.55 521.10h4.6v10.80h-4.6zM738.30 531.90h1.1v8.60h-1.1zM742.19 531.20h4.6v29.60h-4.6zM747.82 561.20h4.6v2.50h-4.6zM749.57 554.00h1.1v7.20h-1.1zM749.57 563.70h1.1v1.70h-1.1zM753.46 563.20h4.6v7.80h-4.6zM755.21 562.10h1.1v1.10h-1.1zM759.09 570.00h4.6v7.70h-4.6zM760.84 568.80h1.1v1.20h-1.1zM804.17 523.00h4.6v6.70h-4.6zM809.80 529.00h4.6v22.70h-4.6zM811.55 551.70h1.1v3.00h-1.1zM849.25 484.20h4.6v2.20h-4.6zM851.00 483.10h1.1v1.10h-1.1zM851.00 486.40h1.1v3.40h-1.1zM854.88 486.40h4.6v4.10h-4.6zM856.63 482.30h1.1v4.10h-1.1zM860.52 489.90h4.6v1.00h-4.6zM862.27 488.30h1.1v1.60h-1.1zM862.27 490.90h1.1v5.60h-1.1zM866.15 490.20h4.6v3.70h-4.6zM867.90 483.10h1.1v7.10h-1.1zM871.79 494.30h4.6v4.40h-4.6zM873.54 490.20h1.1v4.10h-1.1zM873.54 498.70h1.1v0.80h-1.1zM894.33 481.10h4.6v1.00h-4.6zM896.08 480.10h1.1v1.00h-1.1zM896.08 482.10h1.1v5.40h-1.1zM899.96 481.60h4.6v1.10h-4.6zM901.71 482.70h1.1v8.00h-1.1zM916.87 476.40h4.6v1.20h-4.6zM918.62 470.00h1.1v6.40h-1.1zM918.62 477.60h1.1v3.60h-1.1zM939.40 438.30h4.6v8.30h-4.6zM941.15 430.30h1.1v8.00h-1.1zM941.15 446.60h1.1v5.20h-1.1zM945.04 446.20h4.6v15.90h-4.6zM946.79 439.10h1.1v7.10h-1.1zM946.79 462.10h1.1v6.40h-1.1zM950.67 462.90h4.6v2.00h-4.6zM952.42 453.00h1.1v9.90h-1.1zM952.42 464.90h1.1v2.80h-1.1zM956.31 464.50h4.6v3.20h-4.6zM958.06 467.70h1.1v2.70h-1.1zM973.21 460.20h4.6v9.80h-4.6zM974.96 456.90h1.1v3.30h-1.1zM984.48 462.90h4.6v1.60h-4.6zM1001.39 408.80h4.6v4.40h-4.6zM1003.14 404.40h1.1v4.40h-1.1zM1003.14 413.20h1.1v1.60h-1.1zM1018.29 401.10h4.6v8.20h-4.6zM1020.04 398.40h1.1v2.70h-1.1zM1020.04 409.30h1.1v2.80h-1.1zM1035.20 389.10h4.6v10.40h-4.6zM1080.27 311.80h4.6v1.20h-4.6zM1082.02 303.30h1.1v8.50h-1.1zM1082.02 313.00h1.1v17.70h-1.1zM1091.54 309.00h4.6v17.70h-4.6zM1093.29 299.30h1.1v9.70h-1.1zM1093.29 326.70h1.1v8.00h-1.1zM1102.81 325.30h4.6v7.20h-4.6zM1104.56 315.40h1.1v9.90h-1.1zM1136.62 304.10h4.6v2.60h-4.6zM1142.26 358.30h4.6v41.10h-4.6zM1176.07 310.60h4.6v13.60h-4.6zM1181.70 323.80h4.6v30.60h-4.6zM1183.45 315.30h1.1v8.50h-1.1zM1183.45 354.40h1.1v4.80h-1.1zM1198.61 299.70h4.6v9.00h-4.6zM1200.36 289.30h1.1v10.40h-1.1zM1200.36 308.70h1.1v7.50h-1.1zM1204.24 309.20h4.6v16.50h-4.6zM1205.99 306.30h1.1v2.90h-1.1zM1243.68 279.80h4.6v7.90h-4.6zM1245.43 272.00h1.1v7.80h-1.1zM1245.43 287.70h1.1v2.70h-1.1zM1249.32 287.30h4.6v7.70h-4.6zM1251.07 280.50h1.1v6.80h-1.1zM1251.07 295.00h1.1v6.80h-1.1zM1254.95 294.00h4.6v6.20h-4.6zM1256.70 293.40h1.1v0.60h-1.1zM1256.70 300.20h1.1v5.10h-1.1zM1283.13 287.30h4.6v6.40h-4.6zM1284.88 284.00h1.1v3.30h-1.1zM1288.76 293.40h4.6v2.30h-4.6zM1300.03 281.50h4.6v31.30h-4.6zM1301.78 276.30h1.1v5.20h-1.1zM1301.78 312.80h1.1v3.80h-1.1zM1305.67 312.10h4.6v1.00h-4.6zM1307.42 309.20h1.1v2.90h-1.1zM1307.42 313.10h1.1v5.20h-1.1zM1311.30 313.40h4.6v4.10h-4.6zM1313.05 310.10h1.1v3.30h-1.1zM1313.05 317.50h1.1v3.10h-1.1zM1316.94 316.70h4.6v9.10h-4.6zM1318.69 325.80h1.1v5.50h-1.1zM1322.57 325.40h4.6v10.90h-4.6zM1324.32 336.30h1.1v5.40h-1.1zM1328.21 336.30h4.6v7.40h-4.6zM1329.96 328.80h1.1v7.50h-1.1zM1333.84 343.70h4.6v12.40h-4.6zM1335.59 339.30h1.1v4.40h-1.1zM1339.48 356.60h4.6v4.00h-4.6zM1345.11 361.10h4.6v12.90h-4.6zM1346.86 352.20h1.1v8.90h-1.1zM1346.86 374.00h1.1v2.50h-1.1zM1362.01 373.00h4.6v4.50h-4.6zM1363.76 367.60h1.1v5.40h-1.1zM1363.76 377.50h1.1v2.00h-1.1zM1367.65 377.00h4.6v1.00h-4.6zM1369.40 373.00h1.1v4.00h-1.1zM1369.40 378.00h1.1v3.50h-1.1zM1373.28 377.00h4.6v21.80h-4.6zM1375.03 374.50h1.1v2.50h-1.1zM1390.19 373.60h4.6v1.40h-4.6zM1407.09 315.10h4.6v5.50h-4.6zM1408.84 313.00h1.1v2.10h-1.1zM1408.84 320.60h1.1v7.10h-1.1zM1412.73 320.00h4.6v6.10h-4.6zM1414.48 317.90h1.1v2.10h-1.1zM1424.00 319.00h4.6v4.90h-4.6zM1425.75 317.90h1.1v1.10h-1.1zM1425.75 323.90h1.1v2.70h-1.1zM1440.90 302.20h4.6v4.70h-4.6zM1446.54 303.30h4.6v3.10h-4.6zM1448.29 296.00h1.1v7.30h-1.1zM1448.29 306.40h1.1v3.80h-1.1zM1452.17 306.40h4.6v4.00h-4.6zM1453.92 301.00h1.1v5.40h-1.1zM1453.92 310.40h1.1v3.30h-1.1zM1469.08 299.00h4.6v4.80h-4.6zM1474.71 303.20h4.6v16.30h-4.6zM1480.35 318.70h4.6v11.00h-4.6zM1482.10 311.50h1.1v7.20h-1.1zM1508.52 310.90h4.6v4.80h-4.6zM1510.27 290.10h1.1v20.80h-1.1zM1510.27 315.70h1.1v3.30h-1.1zM1514.15 315.10h4.6v7.40h-4.6zM1515.90 322.50h1.1v4.20h-1.1zM1536.69 307.50h4.6v6.80h-4.6zM1538.44 305.60h1.1v1.90h-1.1zM1538.44 314.30h1.1v3.70h-1.1zM1542.33 313.70h4.6v4.30h-4.6zM1581.77 239.10h4.6v4.40h-4.6zM1583.52 232.30h1.1v6.80h-1.1zM1593.04 231.50h4.6v2.00h-4.6zM1604.31 217.30h4.6v17.40h-4.6zM1606.06 234.70h1.1v3.20h-1.1zM1615.58 229.60h4.6v14.30h-4.6zM1617.33 243.90h1.1v2.00h-1.1zM1626.85 224.00h4.6v17.90h-4.6zM1655.02 189.10h4.6v8.30h-4.6zM1656.77 186.30h1.1v2.80h-1.1zM1656.77 197.40h1.1v7.20h-1.1zM1671.93 187.20h4.6v19.70h-4.6zM1673.68 185.70h1.1v1.50h-1.1zM1677.56 207.30h4.6v8.90h-4.6zM1679.31 216.20h1.1v10.40h-1.1zM1705.74 197.20h4.6v13.40h-4.6zM1707.49 193.10h1.1v4.10h-1.1zM1707.49 210.60h1.1v5.20h-1.1zM1717.01 206.50h4.6v2.30h-4.6zM1718.76 202.10h1.1v4.40h-1.1zM1718.76 208.80h1.1v2.60h-1.1zM1739.55 189.20h4.6v26.40h-4.6zM1741.30 186.30h1.1v2.90h-1.1zM1741.30 215.60h1.1v1.90h-1.1zM1745.18 215.10h4.6v8.00h-4.6zM1746.93 223.10h1.1v2.40h-1.1zM1762.09 172.20h4.6v6.10h-4.6zM1763.84 171.20h1.1v1.00h-1.1zM1778.99 161.30h4.6v42.90h-4.6zM1780.74 157.10h1.1v4.20h-1.1zM1780.74 204.20h1.1v33.50h-1.1zM1784.62 204.70h4.6v3.80h-4.6zM1786.37 198.10h1.1v6.60h-1.1zM1786.37 208.50h1.1v13.20h-1.1zM1790.26 208.00h4.6v9.50h-4.6zM1792.01 201.00h1.1v7.00h-1.1zM1792.01 217.50h1.1v1.40h-1.1z"/></g></svg>

<!-- legend -->
<div class="a" style="left:59px;top:77px;font-size:12.6px;letter-spacing:-0.15px;line-height:15px">BIST 100 · 1s · BISTEX</div>
<div class="a" style="left:194px;top:77px;font-size:11px;line-height:14px">A<span style="color:#f23645">14.260,61</span></div>
<div class="a" style="left:257px;top:77px;font-size:11px;line-height:14px">Y<span style="color:#f23645">14.261,20</span></div>
<div class="a" style="left:319px;top:77px;font-size:11px;line-height:14px">D<span style="color:#f23645">14.227,29</span></div>
<div class="a" style="left:383px;top:77px;font-size:11px;line-height:14px">K<span style="color:#f23645">14.227,29</span></div>
<div class="a" style="left:445px;top:77px;font-size:11px;line-height:14px;color:#f23645">-34,90 (-0,24%)</div>

<!-- price axis -->
<div class="a" style="left:1854px;top:71px;width:1px;height:866px;background:#f0f3f3"></div>
<div class="pl" style="top:91.5px">14.800,00</div><div class="pl" style="top:134.5px">14.600,00</div><div class="pl" style="top:177.5px">14.400,00</div><div class="pl" style="top:221.5px">14.200,00</div><div class="pl" style="top:264.5px">14.000,00</div><div class="pl" style="top:307.5px">13.800,00</div><div class="pl" style="top:350.5px">13.600,00</div><div class="pl" style="top:435.5px">13.200,00</div><div class="pl" style="top:479.5px">13.000,00</div><div class="pl" style="top:522.5px">12.800,00</div><div class="pl" style="top:565.5px">12.600,00</div><div class="pl" style="top:608.5px">12.400,00</div><div class="pl" style="top:651.5px">12.200,00</div><div class="pl" style="top:694.5px">12.000,00</div><div class="pl" style="top:737.5px">11.800,00</div><div class="pl" style="top:780.5px">11.600,00</div><div class="pl" style="top:823.5px">11.400,00</div><div class="pl" style="top:867.5px">11.200,00</div><div class="pl" style="top:910.5px">11.000,00</div>
<div class="a" style="left:1857px;top:209px;width:55px;height:14px;border-radius:2px;background:#089981"></div>
<div class="pl" style="top:209px;color:#fff">14.259,90</div>
<div class="a" style="left:1857px;top:397px;width:55px;height:18px;border-radius:2px;background:#131722"></div>
<div class="pl" style="top:399.5px;color:#fff">13.378,06</div>

<!-- TV logo & collapse -->
<div class="a" style="left:62px;top:897px;width:29px;height:29px;border-radius:50%;border:1px solid #e0e3eb;background:#fff"></div>
<svg class="i" style="left:66px;top:906px" width="22" height="14">
 <path d="M1.5 1.9h7.4v8.9H6V4.8H1.5z" fill="#131722"/><circle cx="11.8" cy="3.2" r="1.3" fill="#131722"/><path d="M14.4 1.9h5.4l-3.6 8.9H12z" fill="#131722"/>
</svg>
<div class="a" style="left:44px;top:925px;width:6px;height:22px;border:1px solid #e0e3eb;border-right:none;border-radius:4px 0 0 4px;background:#fff"></div>
<svg class="i" style="left:45px;top:930px" width="5" height="12"><path d="M3.5 3l-2 3 2 3" stroke="#b2b5be" stroke-width=".8" fill="none"/></svg>

<!-- time axis -->
<div class="sep" style="left:52px;top:937px;width:1864px;height:1px"></div>
<div class="sep" style="left:52px;top:961px;width:1864px;height:1px"></div>
<div class="tl b" style="left:49.6px">2026</div><div class="tl" style="left:151.0px">6</div><div class="tl" style="left:252.4px">8</div><div class="tl" style="left:353.9px">12</div><div class="tl" style="left:455.3px">14</div><div class="tl" style="left:556.7px">16</div><div class="tl" style="left:658.1px">20</div><div class="tl" style="left:759.6px">22</div><div class="tl" style="left:861.0px">26</div><div class="tl" style="left:962.4px">28</div><div class="tl" style="left:1041.3px">15:00</div><div class="tl" style="left:1114.6px">Şub</div><div class="tl" style="left:1216.0px">4</div><div class="tl" style="left:1317.4px">6</div><div class="tl" style="left:1418.8px">10</div><div class="tl" style="left:1520.3px">12</div><div class="tl" style="left:1621.7px">16</div>
<div class="a" style="left:1820px;top:937px;width:36px;height:24px;overflow:hidden"><div class="tl" style="left:4.5px;top:4px">20</div></div>
<div class="a" style="left:1699px;top:937px;width:97px;height:21px;border-radius:0 0 2px 2px;background:#131722"></div>
<div class="a" style="left:1707px;top:941px;font-size:11px;line-height:14px;color:#fff;letter-spacing:-0.2px">17 Şub '26</div>
<div class="a" style="left:1763px;top:941px;font-size:11px;line-height:14px;color:#fff">18:00</div>
<svg class="i" style="left:1877px;top:940px" width="20" height="18">
 <path d="M5.5 2.5h8l4 6.8-4 6.8h-8l-4-6.8z" stroke="#131722" stroke-width="1.1" fill="none"/>
 <circle cx="9.5" cy="9.3" r="2.3" stroke="#131722" stroke-width="1.1" fill="none"/>
</svg>

<!-- bottom bar -->
<div class="bt" style="left:65px">1d</div>
<div class="bt" style="left:87px">7d</div>
<div class="bt" style="left:111px">1a</div>
<div class="bt" style="left:133px">1y</div>
<div class="bt" style="left:154px">2y</div>
<div class="bt" style="left:177px">3y</div>
<div class="bt" style="left:199px">6y</div>
<div class="a" style="left:221px;top:969px;width:1px;height:19px;background:#e0e3eb"></div>
<svg class="i" style="left:230px;top:967px" width="22" height="20">
 <path d="M4.5 9V5.5a1.5 1.5 0 0 1 1.5-1.5h11a1.5 1.5 0 0 1 1.5 1.5v11.5a1.5 1.5 0 0 1-1.5 1.5H11M4.5 7.5h14M9 2.5v3M14 2.5v3M2 14.5h6.5M6 12l2.5 2.5L6 17" stroke="#131722" stroke-width="1.1" fill="none"/>
</svg>
<div class="bt" style="left:1701px;font-size:11.5px;letter-spacing:-0.1px">09:41:26 (UTC+3)</div>
<div class="a" style="left:1801px;top:969px;width:1px;height:19px;background:#e0e3eb"></div>
<div class="bt" style="left:1811px">%</div>
<div class="bt" style="left:1833px">log</div>
<div class="bt" style="left:1859px;color:#2962ff;font-size:12.3px">otomatik</div>

<!-- taskbar -->
<div class="a" style="left:0;top:999px;width:1920px;height:8px;background:#00264d"></div>
<div class="a" style="left:834px;top:999px;width:44px;height:8px;background:#003a6c"></div>
<div class="a" style="left:878px;top:999px;width:1px;height:8px;background:#001a33"></div>
<div class="a" style="left:1079px;top:999px;width:44px;height:8px;background:#87582f"></div>
<div class="a" style="left:1123px;top:999px;width:4px;height:8px;background:#a0582a"></div>
<div class="a" style="left:1915px;top:999px;width:1px;height:8px;background:#6a78a8"></div>
<div class="a" style="left:1904px;top:983px;width:16px;height:15px;background:#f9f9f9"></div>
</body></html>
